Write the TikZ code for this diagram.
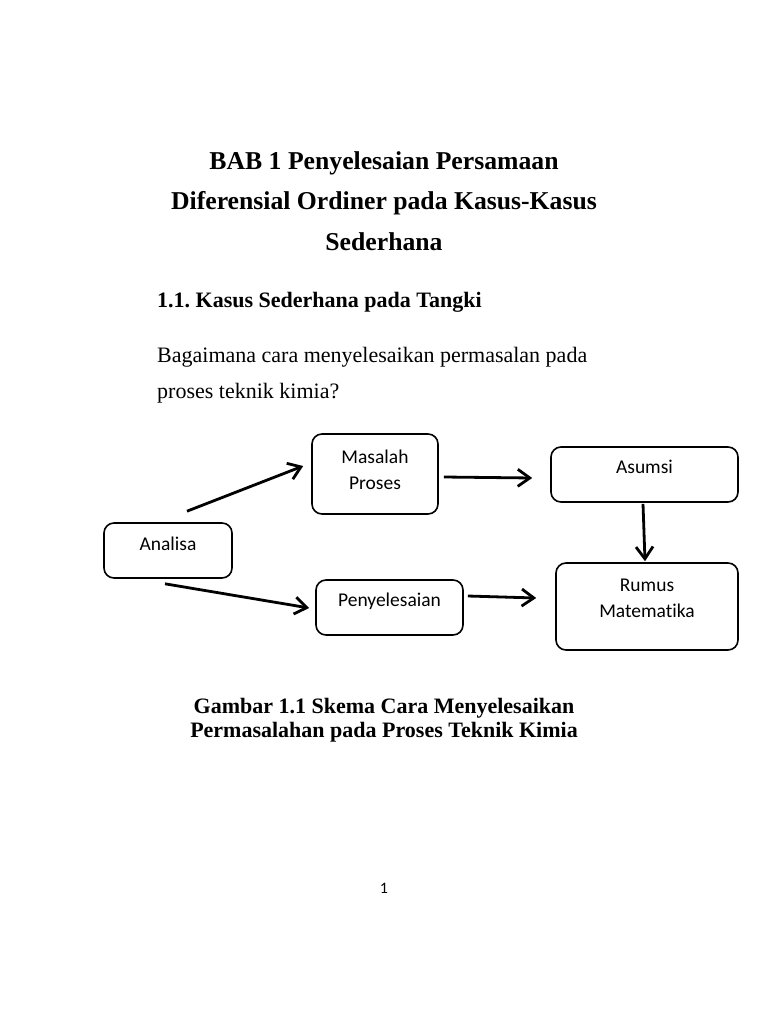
\documentclass[tikz,border=0pt]{standalone}
\usepackage{fontspec}
\setmainfont{Liberation Serif}
\newfontfamily\boxfont[Ligatures=CommonOff]{Carlito}
\usetikzlibrary{arrows.meta}
\begin{document}
\begin{tikzpicture}[x=1pt,y=-1pt,
  txt/.style={inner sep=0pt,anchor=base},
  ttl/.style={txt,font=\fontsize{25.7}{30}\selectfont\bfseries},
  sect/.style={txt,anchor=base west,font=\fontsize{22}{26}\selectfont\bfseries\frenchspacing},
  body/.style={txt,anchor=base west,font=\fontsize{22}{26}\selectfont},
  capt/.style={txt,font=\fontsize{22}{26}\selectfont\bfseries},
  box/.style={draw=black,line width=1.6pt,rounded corners=10pt,inner sep=0pt},
  lbl/.style={font=\boxfont\fontsize{19.5}{26}\selectfont,align=center,inner sep=0pt},
  conn/.style={line width=2.8pt,-{Straight Barb[length=12pt,width=17pt,line width=2.8pt]}}
]
\useasboundingbox[fill=white] (0,0) rectangle (768,1024);

\node[ttl] (t1) at (384,170) {BAB 1 Penyelesaian Persamaan};
\node[ttl] (t2) at (384,210) {Diferensial Ordiner pada Kasus-Kasus};
\node[ttl] (t3) at (384,251) {Sederhana};
\node[sect] (s1) at (157,307) {1.1. Kasus Sederhana pada Tangki};
\node[body] (b1) at (157,362) {Bagaimana cara menyelesaikan permasalan pada};
\node[body] (b2) at (157,398) {proses teknik kimia?};

\node[box,minimum width=128pt,minimum height=55pt,
  label={[lbl,yshift=6.5pt]center:Analisa}] (ana) at (168,550.5) {};
\node[box,minimum width=126pt,minimum height=80pt,
  label={[lbl,yshift=4pt]center:Masalah\\Proses}] (mas) at (375,474) {};
\node[box,minimum width=187pt,minimum height=55pt,
  label={[lbl,yshift=7.5pt]center:Asumsi}] (asu) at (644.5,474.5) {};
\node[box,minimum width=147pt,minimum height=55pt,
  label={[lbl,yshift=6.5pt]center:Penyelesaian}] (pen) at (389.5,607.5) {};
\node[box,minimum width=182pt,minimum height=87pt,
  label={[lbl,yshift=8pt]center:Rumus\\Matematika}] (rum) at (647,606.5) {};

\coordinate (a1s) at ([shift={(19,-11)}]ana.north);
\coordinate (a1e) at ([shift={(-8,-8)}]mas.west);
\coordinate (a2s) at ([shift={(-3,5)}]ana.south);
\coordinate (a2e) at ([shift={(-6,0.5)}]pen.west);
\coordinate (a3s) at ([shift={(5,3)}]mas.east);
\coordinate (a3e) at ([shift={(-18,3.5)}]asu.west);
\coordinate (a4s) at ([shift={(4,-11.5)}]pen.east);
\coordinate (a4e) at ([shift={(-19,-8.5)}]rum.west);
\coordinate (a5s) at ([shift={(-1.5,1)}]asu.south);
\coordinate (a5e) at ([shift={(-2,-1)}]rum.north);

\draw[conn] (a1s) -- (a1e);
\draw[conn] (a2s) -- (a2e);
\draw[conn] (a3s) -- (a3e);
\draw[conn] (a4s) -- (a4e);
\draw[conn] (a5s) -- (a5e);

\node[capt] (c1) at (384,713) {Gambar 1.1 Skema Cara Menyelesaikan};
\node[capt] (c2) at (384,737) {Permasalahan pada Proses Teknik Kimia};
\node[txt,font=\boxfont\fontsize{16}{20}\selectfont] (pg) at (384,893) {1};
\end{tikzpicture}
\end{document}
